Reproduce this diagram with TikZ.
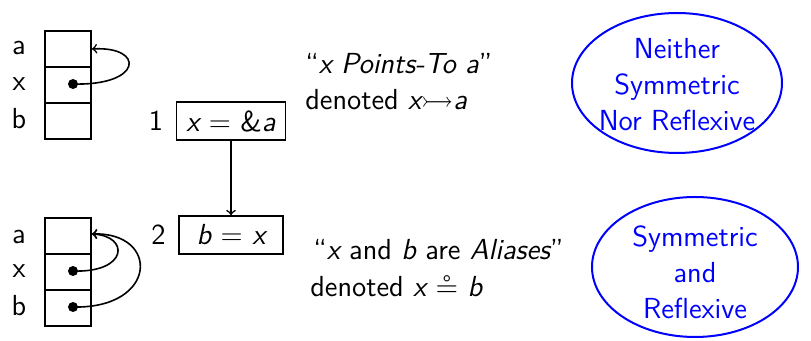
\documentclass[tikz,border=0pt]{standalone}
\usepackage{amssymb}
\begin{document}
\begin{tikzpicture}[x=0.5pt,y=-0.5pt,
  font=\sffamily\fontsize{14.5}{18}\selectfont,
  cell/.style={draw,line width=1pt,minimum width=23pt,minimum height=18pt,inner sep=0pt,anchor=north west},
  dotn/.style={circle,fill,inner sep=0pt,minimum size=5pt},
  stmt/.style={draw,line width=0.9pt,inner sep=0pt,minimum height=19pt},
  lbl/.style={inner sep=0pt},
  ptr/.style={->,line width=0.8pt},
  relline/.style={draw=blue,line width=1pt},
  reltext/.style={text=blue,align=center,inner sep=0pt}]
\useasboundingbox (0,0) rectangle (811,341);
% top memory
\node[cell] (ta) at (44,30) {};
\node[cell] (tx) at (44,66) {};
\node[cell] (tb) at (44,102) {};
\node[lbl] (tla) at (19,48) {a};
\node[lbl] (tlx) at (19,84) {x};
\node[lbl] (tlb) at (19,119) {b};
\node[dotn] (tdot) at (73,84) {};
\draw[ptr] (tdot.center) .. controls (143,86) and (145,46) .. (ta.east);
% bottom memory
\node[cell] (ba) at (44,217) {};
\node[cell] (bx) at (44,253) {};
\node[cell] (bb) at (44,289) {};
\node[lbl] (bla) at (19,237) {a};
\node[lbl] (blx) at (19,271) {x};
\node[lbl] (blb) at (19,306) {b};
\node[dotn] (bdx) at (73,271) {};
\node[dotn] (bdb) at (73,307) {};
\draw[ptr] (bdx.center) .. controls (128,273) and (130,236) .. ([yshift=1pt]ba.east);
\draw[ptr] (bdb.center) .. controls (158,309) and (160,232) .. ([yshift=1pt]ba.east);
% statements
\node[stmt,minimum width=54.5pt] (s1) at (231,121) {{\itshape x} = \&{\itshape a}};
\node[stmt,minimum width=52pt] (s2) at (231,235) {{\itshape b} = {\itshape x}};
\node[lbl,anchor=east] (n1) at ([xshift=-6pt]s1.west) {1};
\node[lbl,anchor=east] (n2) at ([xshift=-6pt]s2.west) {2};
\draw[ptr] (s1.south) -- (s2.north);
% descriptions
\node[lbl,anchor=base west] (d1) at (305,74) {``{\itshape x Points-To a}''};
\node[lbl,anchor=base west] (d2) at (305,110) {denoted {\itshape x}$\rightarrowtail${\itshape a}};
\node[lbl,anchor=base west] (d3) at (313,260) {``{\itshape x} and {\itshape b} are {\itshape Aliases}''};
\node[lbl,anchor=base west] (d4) at (310,297) {denoted {\itshape x} $\circeq$ {\itshape b}};
% relations
\coordinate (e1) at (677,83);
\draw[relline] (e1) ellipse [x radius=105, y radius=70];
\node[reltext] (e1t) at (677,85) {Neither\\Symmetric\\Nor Reflexive};
\coordinate (e2) at (695,267);
\draw[relline] (e2) ellipse [x radius=103, y radius=70];
\node[reltext] (e2t) at (695,272) {Symmetric\\and\\Reflexive};
\end{tikzpicture}
\end{document}
